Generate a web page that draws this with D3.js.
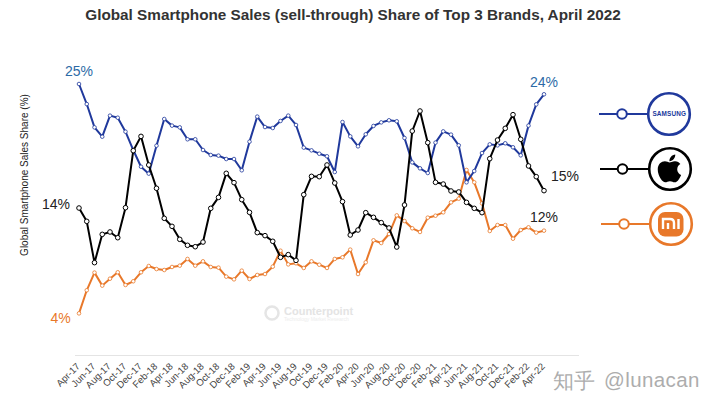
<!DOCTYPE html>
<html>
<head>
<meta charset="utf-8">
<script src="https://cdn.jsdelivr.net/npm/d3@7/dist/d3.min.js"></script>
<style>
html,body{margin:0;padding:0;background:#fff}
svg{display:block}
text{font-family:"Liberation Sans",Arial,sans-serif}
</style>
</head>
<body>
<svg id="c" width="720" height="408"></svg>
<script>
const monthNames = ["Jan","Feb","Mar","Apr","May","Jun","Jul","Aug","Sep","Oct","Nov","Dec"];
const months = d3.range(61).map(i => { const m = (i + 3) % 12, y = 17 + Math.floor((i + 3) / 12); return monthNames[m] + "-" + y; });
const samsung = [25.0,23.15,21.0,20.14,22.08,21.89,20.6,18.91,17.37,16.73,19.31,21.77,21.16,21.0,19.9,19.9,18.91,18.45,18.39,18.08,18.08,17.04,19.68,21.99,21.03,20.94,21.59,22.08,21.22,19.13,18.88,18.57,18.33,16.88,21.49,20.17,19.25,20.36,21.13,21.46,21.65,21.56,20.02,17.77,17.22,16.79,19.59,20.63,20.33,19.34,15.93,16.97,18.63,19.43,19.34,19.53,19.16,18.42,21.16,23.12,24.05];
const apple = [13.56,12.33,8.52,11.13,11.35,10.82,13.59,18.85,20.17,17.53,15.38,12.61,11.87,10.67,10.12,9.99,10.42,13.53,14.54,16.76,15.9,14.33,13.16,11.29,11.01,10.49,9.01,9.26,8.73,14.79,16.48,16.45,17.53,15.87,14.15,11.07,11.53,13.13,12.7,12.21,11.72,9.96,13.84,20.66,22.51,19.59,15.93,15.77,15.13,15.04,14.08,13.53,13.13,18.11,19.83,20.91,22.17,19.9,17.44,16.45,15.16];
const xiaomi = [3.84,5.97,7.6,6.4,7.04,7.63,6.46,6.8,7.63,8.21,7.93,7.84,8.12,8.24,8.86,8.24,8.64,8.12,8.06,7.23,6.98,7.78,7.01,7.38,7.47,8.15,9.62,8.36,8.46,8.03,8.64,8.33,8.03,8.86,9.01,9.72,7.47,8.55,10.58,10.33,11.16,12.88,12.36,11.69,11.35,12.67,12.85,13.16,14.08,14.42,17.07,15.93,13.99,11.44,11.99,11.99,10.73,11.53,11.78,11.29,11.47];
const seriesList = [
  {name:"Xiaomi", values:xiaomi, color:"#e8782a", r:1.8, w:2},
  {name:"Samsung", values:samsung, color:"#20399c", r:1.8, w:2},
  {name:"Apple", values:apple, color:"#000000", r:2.3, w:2}
];
const titleText = "Global Smartphone Sales (sell-through) Share of Top 3 Brands, April 2022";
const yLabel = "Global Smartphone Sales Share (%)";
const callouts = [
  {t:"25%", x:79, y:75.5, c:"#2c6aa6", a:"middle"},
  {t:"14%", x:56, y:208.5, c:"#222", a:"middle"},
  {t:"4%", x:60.5, y:322.5, c:"#e8782a", a:"middle"},
  {t:"24%", x:544, y:86.5, c:"#2c6aa6", a:"middle"},
  {t:"15%", x:565, y:181, c:"#222", a:"middle"},
  {t:"12%", x:544, y:222, c:"#222", a:"middle"}
];

const svg = d3.select("#c");
const x = d3.scalePoint().domain(months).range([79,544]);
const y = d3.scaleLinear().domain([0,25]).range([355,84]);

svg.append("text").attr("x",353).attr("y",20).attr("text-anchor","middle")
  .attr("font-size",15.3).attr("font-weight","bold").attr("fill","#333").text(titleText);
svg.append("text").attr("transform","translate(27.5,175) rotate(-90)").attr("text-anchor","middle")
  .attr("font-size",10).attr("fill","#222").text(yLabel);

// baseline
svg.append("line").attr("x1",75).attr("x2",579).attr("y1",355.5).attr("y2",355.5).attr("stroke","#e4e4e4").attr("stroke-width",1);

const ax = d3.axisBottom(x).tickValues(months.filter((m,i)=>i%2===0)).tickSize(0);
const gx = svg.append("g").attr("transform","translate(0,355)").call(ax);
gx.select(".domain").remove();
gx.selectAll("text").attr("font-family",'"Liberation Sans",Arial,sans-serif').attr("font-size",9.6).attr("fill","#444")
  .attr("text-anchor","end").attr("dy",0).attr("y",0).attr("x",0)
  .attr("transform","translate(1,12) rotate(-45)");

// watermark
const wm = svg.append("g").attr("opacity",0.9);
wm.append("circle").attr("cx",272).attr("cy",313).attr("r",6.5).attr("fill","none").attr("stroke","#e3e3e3").attr("stroke-width",2.5);
wm.append("text").attr("x",284).attr("y",315).attr("font-size",11).attr("font-weight","bold").attr("fill","#e2e2e2").text("Counterpoint");
wm.append("text").attr("x",284).attr("y",320.5).attr("font-size",5).attr("fill","#ececec").text("Technology Market Research");

const line = d3.line().x((d,i)=>x(months[i])).y(d=>y(d));
seriesList.forEach(s=>{
  const g = svg.append("g");
  g.append("path").datum(s.values).attr("d",line).attr("fill","none").attr("stroke",s.color).attr("stroke-width",s.w).attr("stroke-linejoin","round");
  g.selectAll("circle").data(s.values).join("circle")
    .attr("cx",(d,i)=>x(months[i])).attr("cy",d=>y(d)).attr("r",s.r)
    .attr("fill","#fff").attr("stroke",s.color).attr("stroke-width",s.name==="Apple"?1:0.8);
});

svg.selectAll("text.callout").data(callouts).join("text").attr("class","callout")
  .attr("x",d=>d.x).attr("y",d=>d.y).attr("text-anchor",d=>d.a).attr("font-size",14).attr("fill",d=>d.c).text(d=>d.t);

// legend
const legend = [
  {k:"samsung", c:"#20399c", x0:599, x1:648, ring:622, cx:669, cy:114},
  {k:"apple", c:"#000000", x0:600, x1:648, ring:622.5, cx:670, cy:169},
  {k:"xiaomi", c:"#e8782a", x0:601, x1:649, ring:624, cx:671, cy:224}
];
legend.forEach(l=>{
  const g = svg.append("g");
  g.append("line").attr("x1",l.x0).attr("x2",l.x1).attr("y1",l.cy).attr("y2",l.cy).attr("stroke",l.c).attr("stroke-width",2);
  g.append("circle").attr("cx",l.ring).attr("cy",l.cy).attr("r",4.8).attr("fill","#fff").attr("stroke",l.c).attr("stroke-width",2);
  g.append("circle").attr("cx",l.cx).attr("cy",l.cy).attr("r",20.8).attr("fill","#fff").attr("stroke",l.c).attr("stroke-width",2.6);
  if(l.k==="samsung"){
    g.append("text").attr("x",l.cx+0.3).attr("y",l.cy+2.4).attr("text-anchor","middle").attr("font-size",6.4).attr("font-weight","bold").attr("fill",l.c).attr("letter-spacing",0.15).text("SAMSUNG");
  }
  if(l.k==="apple"){
    g.append("path").attr("transform",`translate(${l.cx-0.6},${l.cy-0.6}) scale(0.062) translate(-192,-256)`).attr("fill","#000")
     .attr("d","M318.7 268.7c-.2-36.7 16.4-64.4 50-84.8-18.8-26.9-47.2-41.7-84.7-44.6-35.5-2.8-74.3 20.7-88.5 20.7-15 0-49.4-19.7-76.4-19.7C63.3 141.2 4 184.8 4 273.5q0 39.3 14.4 81.2c12.8 36.7 59 126.7 107.2 125.2 25.2-.6 43-17.9 75.8-17.9 31.8 0 48.3 17.9 76.4 17.9 48.6-.7 90.4-82.5 102.6-119.3-65.2-30.7-61.7-90-61.7-91.9zm-56.6-164.2c27.3-32.4 24.8-61.9 24-72.5-24.1 1.4-52 16.4-67.9 34.9-17.5 19.8-27.8 44.3-25.6 71.9 26.1 2 49.9-11.4 69.5-34.3z");
  }
  if(l.k==="xiaomi"){
    g.append("rect").attr("x",l.cx-13).attr("y",l.cy-12).attr("width",25.5).attr("height",24.5).attr("rx",7).attr("fill",l.c);
    g.append("path").attr("d",`M${l.cx-8} ${l.cy+5} V${l.cy-5} H${l.cx-1} Q${l.cx+3} ${l.cy-5} ${l.cx+3} ${l.cy-1} V${l.cy+5} M${l.cx-3} ${l.cy-1} V${l.cy+5} M${l.cx+7.5} ${l.cy-5} V${l.cy+5}`)
      .attr("fill","none").attr("stroke","#fff").attr("stroke-width",2.4);
  }
});

// site watermark
svg.append("text").attr("x",552.5).attr("y",388).attr("font-family",'"Noto Sans CJK SC",sans-serif').attr("font-size",21).attr("fill","#adadad").text("知乎");
svg.append("text").attr("x",604).attr("y",387).attr("font-family",'"Liberation Sans",sans-serif').attr("font-size",20.5).attr("letter-spacing",0.4).attr("fill","#adadad").text("@lunacan");
</script>
</body>
</html>
